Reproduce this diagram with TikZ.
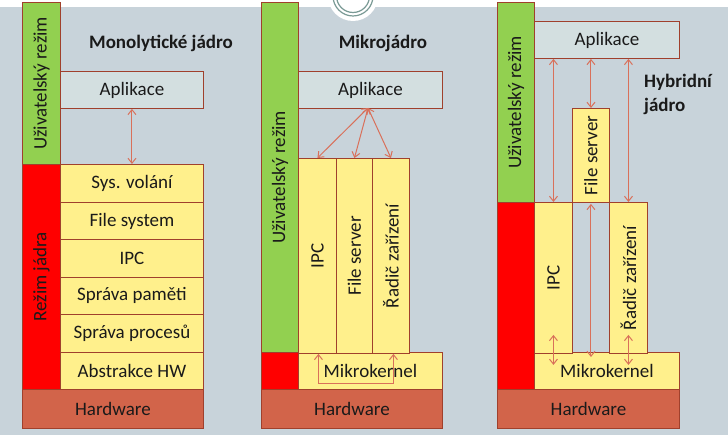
\documentclass[tikz,border=0pt]{standalone}
\usepackage{fontspec}
\usepackage{graphicx}
\setmainfont{Carlito}
\usetikzlibrary{arrows.meta,calc}
\definecolor{bgc}{HTML}{C8D3DA}
\definecolor{greenc}{HTML}{92D050}
\definecolor{redc}{HTML}{FF0000}
\definecolor{yelc}{HTML}{FFF08C}
\definecolor{appc}{HTML}{D3DFE0}
\definecolor{hwc}{HTML}{D2644A}
\definecolor{edgec}{HTML}{A0402C}
\definecolor{arrc}{HTML}{D9705A}
\definecolor{ringc}{HTML}{7A9A95}
\definecolor{txtc}{HTML}{1A1A1A}
\tikzset{
  lay/.style={draw=edgec, line width=0.9bp, anchor=north west, inner sep=0pt, text=txtc,
    font=\fontsize{19bp}{22bp}\selectfont},
  usr/.style={lay, fill=greenc},
  krn/.style={lay, fill=redc},
  yel/.style={lay, fill=yelc},
  app/.style={lay, fill=appc},
  hw/.style={lay, fill=hwc},
  ttl/.style={font=\fontsize{19bp}{22bp}\selectfont\bfseries, text=txtc, inner sep=0pt},
  arr/.style={draw=arrc, line width=1bp, {Straight Barb[length=5bp,width=8bp]}-{Straight Barb[length=5bp,width=8bp]}},
}
\newcommand{\lbox}[7]{\node[#6, minimum width={(#4-#2)*1bp}, minimum height={(#5-#3)*1bp}] (#1) at (#2,#3) {#7};}
\begin{document}
\begin{tikzpicture}[x=1bp,y=-1bp]
\useasboundingbox (0,0) rectangle (728,435);
\fill[white] (0,0) rectangle (728,435);
\fill[bgc] (0,7) rectangle (728,435);
\fill[white] (353,-4) circle (25);
\draw[ringc, line width=1.2bp] (353,-4) circle (20);
\draw[ringc, line width=1.2bp] (353,-4) circle (16.5);

% Panel 1: monolithic
\lbox{u1}{22}{2}{60}{164}{usr}{\rotatebox{90}{Uživatelský režim}}
\lbox{k1}{22}{164}{60}{389}{krn}{\rotatebox{90}{Režim jádra}}
\lbox{a1}{60}{71}{203}{108}{app}{Aplikace}
\lbox{s1}{60}{164}{203}{202}{yel}{Sys. volání}
\lbox{s2}{60}{202}{203}{239}{yel}{File system}
\lbox{s3}{60}{239}{203}{277}{yel}{IPC}
\lbox{s4}{60}{277}{203}{314}{yel}{Správa paměti}
\lbox{s5}{60}{314}{203}{352}{yel}{Správa procesů}
\lbox{s6}{60}{352}{203}{389}{yel}{Abstrakce HW}
\lbox{h1}{22}{389}{203}{428}{hw}{Hardware}
\node[ttl] (t1) at (161,43) {Monolytické jádro};
\draw[arr] (a1.south) -- (s1.north);

% Panel 2: microkernel
\lbox{u2}{261}{2}{298}{352}{usr}{\rotatebox{90}{Uživatelský režim}}
\lbox{k2}{261}{352}{298}{389}{krn}{}
\lbox{a2}{298}{71}{442}{108}{app}{Aplikace}
\lbox{m2}{298}{352}{442}{389}{yel}{Mikrokernel}
\lbox{c21}{298}{158}{336}{353}{yel}{\rotatebox{90}{IPC}}
\lbox{c22}{336}{158}{372}{353}{yel}{\rotatebox{90}{File server}}
\lbox{c23}{372}{158}{409}{353}{yel}{\rotatebox{90}{Řadič zařízení}}
\lbox{h2}{261}{389}{442}{428}{hw}{Hardware}
\node[ttl] (t2) at (383,43) {Mikrojádro};
\coordinate (a2o) at (368,108);
\draw[arr] (a2o) -- (c21.north);
\draw[arr] (a2o) -- (c22.north);
\draw[arr] (a2o) -- (c23.north);
\draw[arr] ($(c21.south)+(1,0)$) -- ++(0,30) -| ($(c23.south)+(2.5,0)$);

% Panel 3: hybrid
\lbox{u3}{497}{2}{534}{202}{usr}{\rotatebox{90}{Uživatelský režim}}
\lbox{k3}{497}{202}{534}{389}{krn}{}
\lbox{a3}{534}{21}{679}{58}{app}{Aplikace}
\lbox{m3}{534}{352}{679}{389}{yel}{Mikrokernel}
\lbox{f3}{572}{108}{609}{202}{yel}{\rotatebox{90}{File server}}
\lbox{i3}{534}{202}{572}{353}{yel}{\rotatebox{90}{IPC}}
\lbox{r3}{609}{202}{647}{353}{yel}{\rotatebox{90}{Řadič zařízení}}
\lbox{h3}{497}{389}{679}{428}{hw}{Hardware}
\node[ttl, anchor=west, align=left] (t3) at (644,94) {Hybridní\\[2bp]jádro};
\draw[arr] (i3.north |- a3.south) -- (i3.north);
\draw[arr] (f3.north |- a3.south) -- (f3.north);
\draw[arr] (r3.north |- a3.south) -- (r3.north);
\draw[arr] ($(i3.south)+(0,-19)$) -- ($(i3.south)+(0,11)$);
\draw[arr] ($(f3.south)+(0,1)$) -- ($(f3.south |- m3.north)+(0,5)$);
\draw[arr] ($(r3.south)+(0,-19)$) -- ($(r3.south)+(0,11)$);
\end{tikzpicture}
\end{document}
